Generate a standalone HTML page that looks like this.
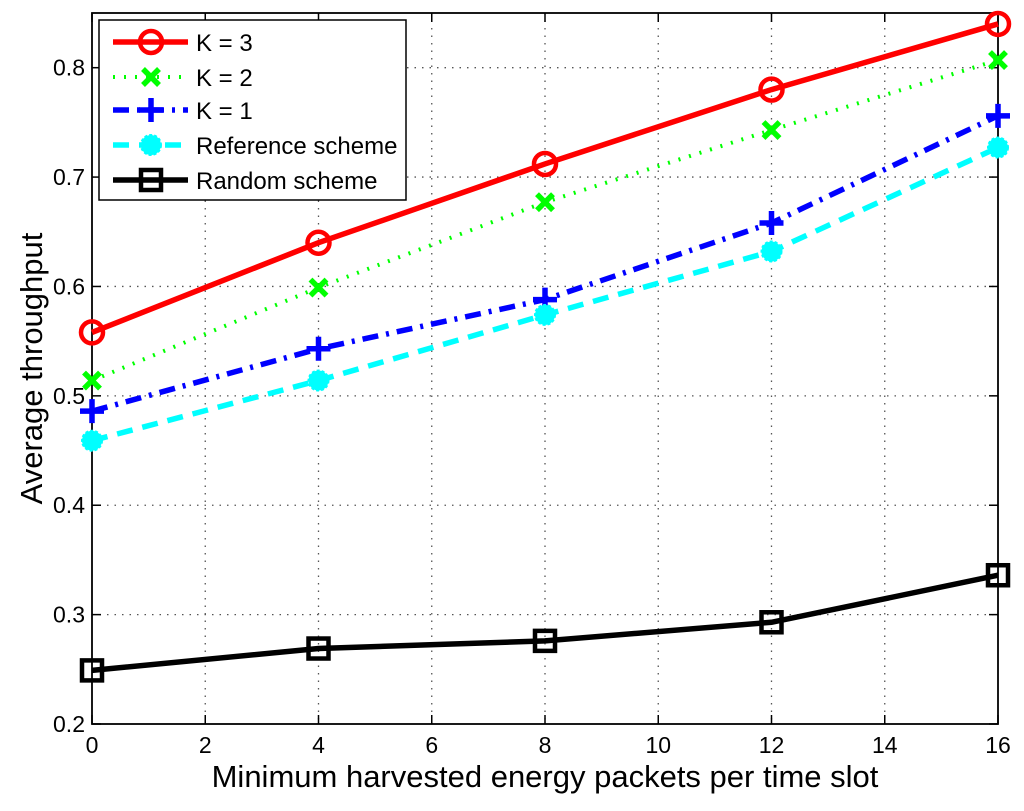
<!DOCTYPE html>
<html><head><meta charset="utf-8"><style>
html,body{margin:0;padding:0;background:#fff;}
svg{display:block;font-family:"Liberation Sans",sans-serif;}
</style></head><body>
<svg id="chart" width="1024" height="811" viewBox="0 0 1024 811"></svg>
<script>
const xValues = [0, 4, 8, 12, 16];
const xTicks = [0, 2, 4, 6, 8, 10, 12, 14, 16];
const yTicks = [0.2, 0.3, 0.4, 0.5, 0.6, 0.7, 0.8];
const k3 = [0.558, 0.640, 0.712, 0.780, 0.840];
const k2 = [0.514, 0.599, 0.677, 0.743, 0.807];
const k1 = [0.486, 0.543, 0.588, 0.658, 0.756];
const refScheme = [0.459, 0.514, 0.574, 0.632, 0.727];
const randScheme = [0.249, 0.269, 0.276, 0.293, 0.336];
const seriesNames = ["K = 3", "K = 2", "K = 1", "Reference scheme", "Random scheme"];

const NS = "http://www.w3.org/2000/svg";
const svg = document.getElementById('chart');
const L = 92, R = 998, T = 13, B = 724;
const xMin = 0, xMax = 16, yMin = 0.2, yMax = 0.85;
const xs = v => L + (v - xMin) / (xMax - xMin) * (R - L);
const ys = v => B - (v - yMin) / (yMax - yMin) * (B - T);
function mk(tag, attrs, parent) {
  const e = document.createElementNS(NS, tag);
  for (const k in attrs) e.setAttribute(k, attrs[k]);
  (parent || svg).appendChild(e);
  return e;
}
const grid = mk('g', {});


xTicks.forEach(t => { if (t > xMin && t < xMax) mk('line', {x1: xs(t), x2: xs(t), y1: T, y2: B, stroke: '#555', 'stroke-width': 1.3, 'stroke-dasharray': '1.5,6'}, grid); });
yTicks.forEach(t => { if (t > yMin) mk('line', {x1: L, x2: R, y1: ys(t), y2: ys(t), stroke: '#555', 'stroke-width': 1.3, 'stroke-dasharray': '1.5,6'}, grid); });
const box = mk('rect', {x: L, y: T, width: R - L, height: B - T, fill: 'none', stroke: '#000', 'stroke-width': 1.8});


xTicks.forEach(t => {
  const x = xs(t);
  mk('line', {x1: x, x2: x, y1: B, y2: B - 9, stroke: '#000', 'stroke-width': 1.5});
  mk('line', {x1: x, x2: x, y1: T, y2: T + 9, stroke: '#000', 'stroke-width': 1.5});
  const tx = mk('text', {x: x, y: B + 29, 'text-anchor': 'middle', 'font-size': 23, fill: '#000'});
  tx.textContent = t;
  
  
});
yTicks.forEach(t => {
  const y = ys(t);
  mk('line', {x1: L, x2: L + 9, y1: y, y2: y, stroke: '#000', 'stroke-width': 1.5});
  mk('line', {x1: R, x2: R - 9, y1: y, y2: y, stroke: '#000', 'stroke-width': 1.5});
  const tx = mk('text', {x: L - 7, y: y + 8, 'text-anchor': 'end', 'font-size': 23, fill: '#000'});
  tx.textContent = t.toFixed(1);
  
  
});
const xt = mk('text', {x: (L + R) / 2, y: 787, 'text-anchor': 'middle', 'font-size': 31, fill: '#000'});
xt.textContent = 'Minimum harvested energy packets per time slot';


const yt = mk('text', {x: 0, y: 0, transform: 'translate(42,' + ((T + B) / 2 + 0) + ') rotate(-90)', 'text-anchor': 'middle', 'font-size': 31, fill: '#000'});
yt.textContent = 'Average throughput';



function marker(type, x, y, color, g) {
  if (type === 'o') mk('circle', {cx: x, cy: y, r: 11, fill: 'none', stroke: color, 'stroke-width': 4.5}, g);
  else if (type === 'x') { mk('path', {d: `M${x-8},${y-8}L${x+8},${y+8}M${x-8},${y+8}L${x+8},${y-8}`, stroke: color, 'stroke-width': 5.5}, g); }
  else if (type === '+') { mk('path', {d: `M${x-12},${y}L${x+12},${y}M${x},${y-12}L${x},${y+12}`, stroke: color, 'stroke-width': 5.5}, g); }
  else if (type === '*') { mk('circle', {cx: x, cy: y, r: 10, fill: color, stroke: color, 'stroke-width': 2, 'stroke-dasharray': '3,2'}, g); }
  else if (type === 's') mk('rect', {x: x - 10, y: y - 10, width: 20, height: 20, fill: 'none', stroke: color, 'stroke-width': 4.5}, g);
}
const styles = [
  {data: k3, color: '#ff0000', dash: '', m: 'o', name: 'series-k3'},
  {data: k2, color: '#00ff00', dash: '2,9', m: 'x', name: 'series-k2', w: 4},
  {data: k1, color: '#0000ff', dash: '16,8,3,8', m: '+', name: 'series-k1'},
  {data: refScheme, color: '#00ffff', dash: '16,10', m: '*', name: 'series-reference'},
  {data: randScheme, color: '#000000', dash: '', m: 's', name: 'series-random'}
];
styles.forEach(s => {
  const g = mk('g', {});
  
  
  const pts = s.data.map((v, i) => xs(xValues[i]) + ',' + ys(v)).join(' ');
  mk('polyline', {points: pts, fill: 'none', stroke: s.color, 'stroke-width': s.w || 5.5, 'stroke-dasharray': s.dash}, g);
  s.data.forEach((v, i) => marker(s.m, xs(xValues[i]), ys(v), s.color, g));
});
const lg = mk('g', {});


mk('rect', {x: 99, y: 20, width: 307, height: 180, fill: '#fff', stroke: '#000', 'stroke-width': 1.5}, lg);
const ly = [42, 77, 110, 145, 180];
styles.forEach((s, i) => {
  const e = mk('g', {}, lg);
  
  
  mk('line', {x1: 113, x2: 188, y1: ly[i], y2: ly[i], stroke: s.color, 'stroke-width': s.w || 5.5, 'stroke-dasharray': s.dash}, e);
  marker(s.m, 151, ly[i], s.color, e);
  const t = mk('text', {x: 196, y: ly[i] + 9, 'font-size': 24, fill: '#000'}, e);
  t.textContent = seriesNames[i];
});
</script>
</body></html>
